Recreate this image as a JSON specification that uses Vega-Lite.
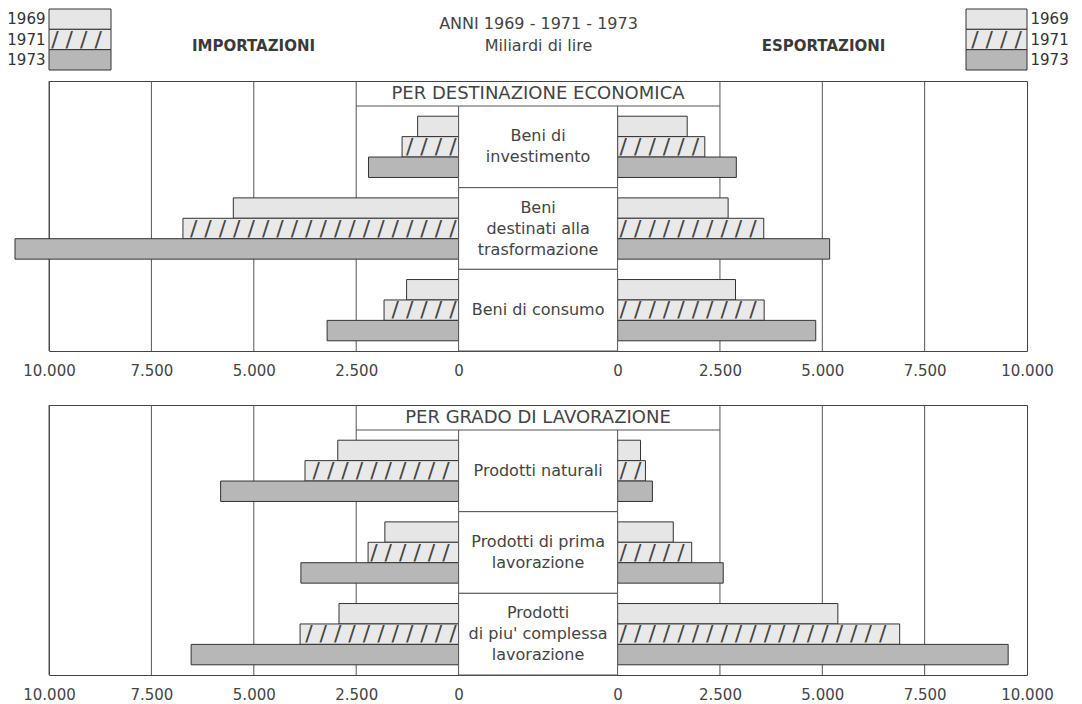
{
  "$schema": "https://vega.github.io/schema/vega-lite/v6.json",
  "padding": {"left": 6, "top": 8, "right": 5, "bottom": 4},
  "background": "white",
  "config": {
    "font": "DejaVu Sans",
    "view": {"stroke": "#444", "strokeWidth": 1},
    "axis": {"labelFont": "DejaVu Sans", "labelColor": "#444", "labelFontSize": 15, "ticks": false, "tickSize": 0, "domain": false, "grid": false, "title": null},
    "title": {"fontWeight": "normal"}
  },
  "datasets": {
    "trade": [
      {"panel": "destinazione", "cat": "Beni di investimento", "flow": "imp", "year": "1969", "value": 1000},
      {"panel": "destinazione", "cat": "Beni di investimento", "flow": "imp", "year": "1971", "value": 1380},
      {"panel": "destinazione", "cat": "Beni di investimento", "flow": "imp", "year": "1973", "value": 2200},
      {"panel": "destinazione", "cat": "Beni destinati alla trasformazione", "flow": "imp", "year": "1969", "value": 5500},
      {"panel": "destinazione", "cat": "Beni destinati alla trasformazione", "flow": "imp", "year": "1971", "value": 6730},
      {"panel": "destinazione", "cat": "Beni destinati alla trasformazione", "flow": "imp", "year": "1973", "value": 10830},
      {"panel": "destinazione", "cat": "Beni di consumo", "flow": "imp", "year": "1969", "value": 1270},
      {"panel": "destinazione", "cat": "Beni di consumo", "flow": "imp", "year": "1971", "value": 1820},
      {"panel": "destinazione", "cat": "Beni di consumo", "flow": "imp", "year": "1973", "value": 3210},
      {"panel": "destinazione", "cat": "Beni di investimento", "flow": "exp", "year": "1969", "value": 1700},
      {"panel": "destinazione", "cat": "Beni di investimento", "flow": "exp", "year": "1971", "value": 2130},
      {"panel": "destinazione", "cat": "Beni di investimento", "flow": "exp", "year": "1973", "value": 2900},
      {"panel": "destinazione", "cat": "Beni destinati alla trasformazione", "flow": "exp", "year": "1969", "value": 2700},
      {"panel": "destinazione", "cat": "Beni destinati alla trasformazione", "flow": "exp", "year": "1971", "value": 3570},
      {"panel": "destinazione", "cat": "Beni destinati alla trasformazione", "flow": "exp", "year": "1973", "value": 5180},
      {"panel": "destinazione", "cat": "Beni di consumo", "flow": "exp", "year": "1969", "value": 2880},
      {"panel": "destinazione", "cat": "Beni di consumo", "flow": "exp", "year": "1971", "value": 3580},
      {"panel": "destinazione", "cat": "Beni di consumo", "flow": "exp", "year": "1973", "value": 4840},
      {"panel": "lavorazione", "cat": "Prodotti naturali", "flow": "imp", "year": "1969", "value": 2950},
      {"panel": "lavorazione", "cat": "Prodotti naturali", "flow": "imp", "year": "1971", "value": 3750},
      {"panel": "lavorazione", "cat": "Prodotti naturali", "flow": "imp", "year": "1973", "value": 5810},
      {"panel": "lavorazione", "cat": "Prodotti di prima lavorazione", "flow": "imp", "year": "1969", "value": 1800},
      {"panel": "lavorazione", "cat": "Prodotti di prima lavorazione", "flow": "imp", "year": "1971", "value": 2210},
      {"panel": "lavorazione", "cat": "Prodotti di prima lavorazione", "flow": "imp", "year": "1973", "value": 3850},
      {"panel": "lavorazione", "cat": "Prodotti di piu' complessa lavorazione", "flow": "imp", "year": "1969", "value": 2920},
      {"panel": "lavorazione", "cat": "Prodotti di piu' complessa lavorazione", "flow": "imp", "year": "1971", "value": 3870},
      {"panel": "lavorazione", "cat": "Prodotti di piu' complessa lavorazione", "flow": "imp", "year": "1973", "value": 6530},
      {"panel": "lavorazione", "cat": "Prodotti naturali", "flow": "exp", "year": "1969", "value": 560},
      {"panel": "lavorazione", "cat": "Prodotti naturali", "flow": "exp", "year": "1971", "value": 680},
      {"panel": "lavorazione", "cat": "Prodotti naturali", "flow": "exp", "year": "1973", "value": 850},
      {"panel": "lavorazione", "cat": "Prodotti di prima lavorazione", "flow": "exp", "year": "1969", "value": 1360},
      {"panel": "lavorazione", "cat": "Prodotti di prima lavorazione", "flow": "exp", "year": "1971", "value": 1810},
      {"panel": "lavorazione", "cat": "Prodotti di prima lavorazione", "flow": "exp", "year": "1973", "value": 2580},
      {"panel": "lavorazione", "cat": "Prodotti di piu' complessa lavorazione", "flow": "exp", "year": "1969", "value": 5380},
      {"panel": "lavorazione", "cat": "Prodotti di piu' complessa lavorazione", "flow": "exp", "year": "1971", "value": 6890},
      {"panel": "lavorazione", "cat": "Prodotti di piu' complessa lavorazione", "flow": "exp", "year": "1973", "value": 9540}
    ],
    "labels": [
      {"panel": "destinazione", "cat": "Beni di investimento", "label": "Beni di\ninvestimento"},
      {"panel": "destinazione", "cat": "Beni destinati alla trasformazione", "label": "Beni\ndestinati alla\ntrasformazione"},
      {"panel": "destinazione", "cat": "Beni di consumo", "label": "Beni di consumo"},
      {"panel": "lavorazione", "cat": "Prodotti naturali", "label": "Prodotti naturali"},
      {"panel": "lavorazione", "cat": "Prodotti di prima lavorazione", "label": "Prodotti di prima\nlavorazione"},
      {"panel": "lavorazione", "cat": "Prodotti di piu' complessa lavorazione", "label": "Prodotti\ndi piu' complessa\nlavorazione"}
    ],
    "years": [{"year": "1969"}, {"year": "1971"}, {"year": "1973"}],
    "gridL": [{"g": 2500}, {"g": 5000}, {"g": 7500}, {"g": 10000}],
    "gridR": [{"g": 2500}, {"g": 5000}, {"g": 7500}]
  },
  "spacing": 54,
  "bounds": "flush",
  "vconcat": [
    {
      "width": 978, "height": 18,
      "view": {"stroke": null},
      "resolve": {"scale": {"x": "independent", "y": "independent"}, "axis": {"x": "independent", "y": "independent"}},
      "layer": [
        {
          "data": {"name": "years"},
          "layer": [
            {"mark": {"type": "rect", "stroke": "#333", "strokeWidth": 1},
             "encoding": {
               "x": {"datum": 0, "type": "quantitative", "scale": {"domain": [0, 1], "range": [0, 62]}, "axis": null},
               "x2": {"datum": 1},
               "y": {"field": "year", "type": "nominal", "scale": {"domain": ["1969", "1971", "1973"], "range": [0, 61], "paddingInner": 0, "paddingOuter": 0}, "axis": {"orient": "left", "labelPadding": 4, "labelFontSize": 15, "labelColor": "#333"}},
               "fill": {"field": "year", "type": "nominal", "scale": {"domain": ["1969", "1971", "1973"], "range": ["#e6e6e6", "#e9e9e9", "#b7b7b7"]}, "legend": null}
             }},
            {"transform": [{"filter": "datum.year === '1971'"}],
             "mark": {"type": "text", "text": "/ / / / / / / / / / / / / / / / / / / / / / / / /", "font": "DejaVu Sans", "fontSize": 22, "color": "#444", "align": "center", "baseline": "middle", "limit": 58, "ellipsis": "\u200b"},
             "encoding": {"x": {"datum": 0.5, "type": "quantitative"}, "y": {"field": "year", "type": "nominal"}}}
          ]
        },
        {
          "data": {"name": "years"},
          "layer": [
            {"mark": {"type": "rect", "stroke": "#333", "strokeWidth": 1},
             "encoding": {
               "x": {"datum": 0, "type": "quantitative", "scale": {"domain": [0, 1], "range": [917, 978]}, "axis": null},
               "x2": {"datum": 1},
               "y": {"field": "year", "type": "nominal", "scale": {"domain": ["1969", "1971", "1973"], "range": [0, 61], "paddingInner": 0, "paddingOuter": 0}, "axis": {"orient": "right", "labelPadding": 3, "labelFontSize": 15, "labelColor": "#333"}},
               "fill": {"field": "year", "type": "nominal", "legend": null}
             }},
            {"transform": [{"filter": "datum.year === '1971'"}],
             "mark": {"type": "text", "text": "/ / / / / / / / / / / / / / / / / / / / / / / / /", "font": "DejaVu Sans", "fontSize": 22, "color": "#444", "align": "center", "baseline": "middle", "limit": 57, "ellipsis": "\u200b"},
             "encoding": {"x": {"datum": 0.5, "type": "quantitative"}, "y": {"field": "year", "type": "nominal"}}}
          ]
        },
        {
          "layer": [
            {"data": {"values": [{"group": "import", "line": "2", "t": "IMPORTAZIONI"}, {"group": "export", "line": "2", "t": "ESPORTAZIONI"}]},
             "mark": {"type": "text", "fontSize": 15, "fontWeight": "bold", "color": "#3a3a3a"},
             "encoding": {
               "x": {"field": "group", "type": "nominal", "scale": {"domain": ["import", "header", "export"], "range": [62, 917], "paddingInner": 0, "paddingOuter": 0}, "axis": null},
               "y": {"field": "line", "type": "nominal", "scale": {"domain": ["1", "2"], "range": [3.25, 48.25], "paddingInner": 0, "paddingOuter": 0}, "axis": null},
               "text": {"field": "t"}
             }},
            {"data": {"values": [{"group": "header", "line": "1", "t": "ANNI 1969 - 1971 - 1973"}, {"group": "header", "line": "2", "t": "Miliardi di lire"}]},
             "mark": {"type": "text", "fontSize": 16, "color": "#444"},
             "encoding": {
               "x": {"field": "group", "type": "nominal"},
               "y": {"field": "line", "type": "nominal"},
               "text": {"field": "t"}
             }}
          ]
        }
      ]
    },
    {
      "width": 978, "height": 270,
      "title": {"text": "PER DESTINAZIONE ECONOMICA", "anchor": "middle", "frame": "group", "offset": 0, "dy": 22, "fontSize": 18, "fontWeight": "normal", "font": "DejaVu Sans", "color": "#444"},
      "resolve": {"scale": {"x": "independent"}, "axis": {"x": "independent"}},
      "layer": [
        {
          "layer": [
            {"data": {"name": "gridL"},
             "mark": {"type": "rule", "color": "#555", "strokeWidth": 1},
             "encoding": {"x": {"field": "g", "type": "quantitative", "scale": {"domain": [0, 10000], "range": [409.6, 0], "nice": false}, "axis": {"orient": "bottom", "values": [0, 2500, 5000, 7500, 10000], "labelExpr": "replace(format(datum.value, ','), ',', '.')", "labelPadding": 12, "labelFontSize": 15, "labelColor": "#444", "labelFlush": false, "labelOverlap": false}}}},
            {"data": {"values": [{"cat": "Beni di investimento"}]},
             "mark": {"type": "rule", "color": "#555", "strokeWidth": 1},
             "encoding": {"x": {"datum": 2500, "type": "quantitative"}, "x2": {"datum": 0}, "y": {"field": "cat", "type": "nominal", "bandPosition": 0, "scale": {"domain": ["Beni di investimento", "Beni destinati alla trasformazione", "Beni di consumo"], "range": [25, 270], "paddingInner": 0, "paddingOuter": 0}, "axis": null}}},
            {"data": {"name": "trade"},
             "transform": [{"filter": "datum.panel === 'destinazione' && datum.flow === 'imp'"}],
             "mark": {"type": "bar", "stroke": "#333", "strokeWidth": 1},
             "encoding": {
               "x": {"field": "value", "type": "quantitative"},
               "y": {"field": "cat", "type": "nominal"},
               "yOffset": {"field": "year", "type": "nominal", "scale": {"domain": ["1969", "1971", "1973"], "paddingInner": 0, "paddingOuter": 0.5}},
               "fill": {"field": "year", "type": "nominal", "scale": {"domain": ["1969", "1971", "1973"], "range": ["#e6e6e6", "#e9e9e9", "#b7b7b7"]}, "legend": null}
             }},
            {"data": {"name": "trade"},
             "transform": [{"filter": "datum.panel === 'destinazione' && datum.flow === 'imp' && datum.year === '1971'"}],
             "mark": {"type": "text", "text": "/ / / / / / / / / / / / / / / / / / / / / / / / /", "font": "DejaVu Sans", "fontSize": 22, "color": "#444", "align": "right", "baseline": "middle", "dx": -2, "limit": {"expr": "datum.value * 0.04096 - 3"}, "ellipsis": "\u200b"},
             "encoding": {"x": {"datum": 0, "type": "quantitative"}, "y": {"field": "cat", "type": "nominal"}, "yOffset": {"field": "year", "type": "nominal"}}}
          ]
        },
        {
          "layer": [
            {"data": {"name": "gridR"},
             "mark": {"type": "rule", "color": "#555", "strokeWidth": 1},
             "encoding": {"x": {"field": "g", "type": "quantitative", "scale": {"domain": [0, 10000], "range": [568.6, 978], "nice": false}, "axis": {"orient": "bottom", "values": [0, 2500, 5000, 7500, 10000], "labelExpr": "replace(format(datum.value, ','), ',', '.')", "labelPadding": 12, "labelFontSize": 15, "labelColor": "#444", "labelFlush": false, "labelOverlap": false}}}},
            {"data": {"values": [{"cat": "Beni di investimento"}]},
             "mark": {"type": "rule", "color": "#555", "strokeWidth": 1},
             "encoding": {"x": {"datum": 0, "type": "quantitative"}, "x2": {"datum": 2500}, "y": {"field": "cat", "type": "nominal", "bandPosition": 0}}},
            {"data": {"name": "trade"},
             "transform": [{"filter": "datum.panel === 'destinazione' && datum.flow === 'exp'"}],
             "mark": {"type": "bar", "stroke": "#333", "strokeWidth": 1},
             "encoding": {
               "x": {"field": "value", "type": "quantitative"},
               "y": {"field": "cat", "type": "nominal"},
               "yOffset": {"field": "year", "type": "nominal"},
               "fill": {"field": "year", "type": "nominal", "legend": null}
             }},
            {"data": {"name": "trade"},
             "transform": [{"filter": "datum.panel === 'destinazione' && datum.flow === 'exp' && datum.year === '1971'"}],
             "mark": {"type": "text", "text": "/ / / / / / / / / / / / / / / / / / / / / / / / /", "font": "DejaVu Sans", "fontSize": 22, "color": "#444", "align": "left", "baseline": "middle", "dx": 2, "limit": {"expr": "datum.value * 0.04094 - 3"}, "ellipsis": "\u200b"},
             "encoding": {"x": {"datum": 0, "type": "quantitative"}, "y": {"field": "cat", "type": "nominal"}, "yOffset": {"field": "year", "type": "nominal"}}}
          ]
        },
        {
          "layer": [
            {"data": {"name": "labels"},
             "transform": [{"filter": "datum.panel === 'destinazione'"}],
             "mark": {"type": "rect", "fill": "white", "stroke": "#555", "strokeWidth": 1},
             "encoding": {"x": {"datum": 0, "type": "quantitative", "scale": {"domain": [0, 1], "range": [409.6, 568.6]}, "axis": null}, "x2": {"datum": 1}, "y": {"field": "cat", "type": "nominal"}}},
            {"data": {"name": "labels"},
             "transform": [{"filter": "datum.panel === 'destinazione'"}],
             "mark": {"type": "text", "fontSize": 16, "color": "#444", "lineBreak": "\n", "lineHeight": 21, "baseline": "middle", "dy": {"expr": "-(split(datum.label, '\\n').length - 1) * 10.5"}},
             "encoding": {"x": {"datum": 0.5, "type": "quantitative"}, "y": {"field": "cat", "type": "nominal"}, "text": {"field": "label"}}}
          ]
        }
      ]
    },
    {
      "width": 978, "height": 270,
      "title": {"text": "PER GRADO DI LAVORAZIONE", "anchor": "middle", "frame": "group", "offset": 0, "dy": 22, "fontSize": 18, "fontWeight": "normal", "font": "DejaVu Sans", "color": "#444"},
      "resolve": {"scale": {"x": "independent"}, "axis": {"x": "independent"}},
      "layer": [
        {
          "layer": [
            {"data": {"name": "gridL"},
             "mark": {"type": "rule", "color": "#555", "strokeWidth": 1},
             "encoding": {"x": {"field": "g", "type": "quantitative", "scale": {"domain": [0, 10000], "range": [409.6, 0], "nice": false}, "axis": {"orient": "bottom", "values": [0, 2500, 5000, 7500, 10000], "labelExpr": "replace(format(datum.value, ','), ',', '.')", "labelPadding": 12, "labelFontSize": 15, "labelColor": "#444", "labelFlush": false, "labelOverlap": false}}}},
            {"data": {"values": [{"cat": "Prodotti naturali"}]},
             "mark": {"type": "rule", "color": "#555", "strokeWidth": 1},
             "encoding": {"x": {"datum": 2500, "type": "quantitative"}, "x2": {"datum": 0}, "y": {"field": "cat", "type": "nominal", "bandPosition": 0, "scale": {"domain": ["Prodotti naturali", "Prodotti di prima lavorazione", "Prodotti di piu' complessa lavorazione"], "range": [25, 270], "paddingInner": 0, "paddingOuter": 0}, "axis": null}}},
            {"data": {"name": "trade"},
             "transform": [{"filter": "datum.panel === 'lavorazione' && datum.flow === 'imp'"}],
             "mark": {"type": "bar", "stroke": "#333", "strokeWidth": 1},
             "encoding": {
               "x": {"field": "value", "type": "quantitative"},
               "y": {"field": "cat", "type": "nominal"},
               "yOffset": {"field": "year", "type": "nominal", "scale": {"domain": ["1969", "1971", "1973"], "paddingInner": 0, "paddingOuter": 0.5}},
               "fill": {"field": "year", "type": "nominal", "scale": {"domain": ["1969", "1971", "1973"], "range": ["#e6e6e6", "#e9e9e9", "#b7b7b7"]}, "legend": null}
             }},
            {"data": {"name": "trade"},
             "transform": [{"filter": "datum.panel === 'lavorazione' && datum.flow === 'imp' && datum.year === '1971'"}],
             "mark": {"type": "text", "text": "/ / / / / / / / / / / / / / / / / / / / / / / / /", "font": "DejaVu Sans", "fontSize": 22, "color": "#444", "align": "right", "baseline": "middle", "dx": -2, "limit": {"expr": "datum.value * 0.04096 - 3"}, "ellipsis": "\u200b"},
             "encoding": {"x": {"datum": 0, "type": "quantitative"}, "y": {"field": "cat", "type": "nominal"}, "yOffset": {"field": "year", "type": "nominal"}}}
          ]
        },
        {
          "layer": [
            {"data": {"name": "gridR"},
             "mark": {"type": "rule", "color": "#555", "strokeWidth": 1},
             "encoding": {"x": {"field": "g", "type": "quantitative", "scale": {"domain": [0, 10000], "range": [568.6, 978], "nice": false}, "axis": {"orient": "bottom", "values": [0, 2500, 5000, 7500, 10000], "labelExpr": "replace(format(datum.value, ','), ',', '.')", "labelPadding": 12, "labelFontSize": 15, "labelColor": "#444", "labelFlush": false, "labelOverlap": false}}}},
            {"data": {"values": [{"cat": "Prodotti naturali"}]},
             "mark": {"type": "rule", "color": "#555", "strokeWidth": 1},
             "encoding": {"x": {"datum": 0, "type": "quantitative"}, "x2": {"datum": 2500}, "y": {"field": "cat", "type": "nominal", "bandPosition": 0}}},
            {"data": {"name": "trade"},
             "transform": [{"filter": "datum.panel === 'lavorazione' && datum.flow === 'exp'"}],
             "mark": {"type": "bar", "stroke": "#333", "strokeWidth": 1},
             "encoding": {
               "x": {"field": "value", "type": "quantitative"},
               "y": {"field": "cat", "type": "nominal"},
               "yOffset": {"field": "year", "type": "nominal"},
               "fill": {"field": "year", "type": "nominal", "legend": null}
             }},
            {"data": {"name": "trade"},
             "transform": [{"filter": "datum.panel === 'lavorazione' && datum.flow === 'exp' && datum.year === '1971'"}],
             "mark": {"type": "text", "text": "/ / / / / / / / / / / / / / / / / / / / / / / / /", "font": "DejaVu Sans", "fontSize": 22, "color": "#444", "align": "left", "baseline": "middle", "dx": 2, "limit": {"expr": "datum.value * 0.04094 - 3"}, "ellipsis": "\u200b"},
             "encoding": {"x": {"datum": 0, "type": "quantitative"}, "y": {"field": "cat", "type": "nominal"}, "yOffset": {"field": "year", "type": "nominal"}}}
          ]
        },
        {
          "layer": [
            {"data": {"name": "labels"},
             "transform": [{"filter": "datum.panel === 'lavorazione'"}],
             "mark": {"type": "rect", "fill": "white", "stroke": "#555", "strokeWidth": 1},
             "encoding": {"x": {"datum": 0, "type": "quantitative", "scale": {"domain": [0, 1], "range": [409.6, 568.6]}, "axis": null}, "x2": {"datum": 1}, "y": {"field": "cat", "type": "nominal"}}},
            {"data": {"name": "labels"},
             "transform": [{"filter": "datum.panel === 'lavorazione'"}],
             "mark": {"type": "text", "fontSize": 16, "color": "#444", "lineBreak": "\n", "lineHeight": 21, "baseline": "middle", "dy": {"expr": "-(split(datum.label, '\\n').length - 1) * 10.5"}},
             "encoding": {"x": {"datum": 0.5, "type": "quantitative"}, "y": {"field": "cat", "type": "nominal"}, "text": {"field": "label"}}}
          ]
        }
      ]
    }
  ]
}
